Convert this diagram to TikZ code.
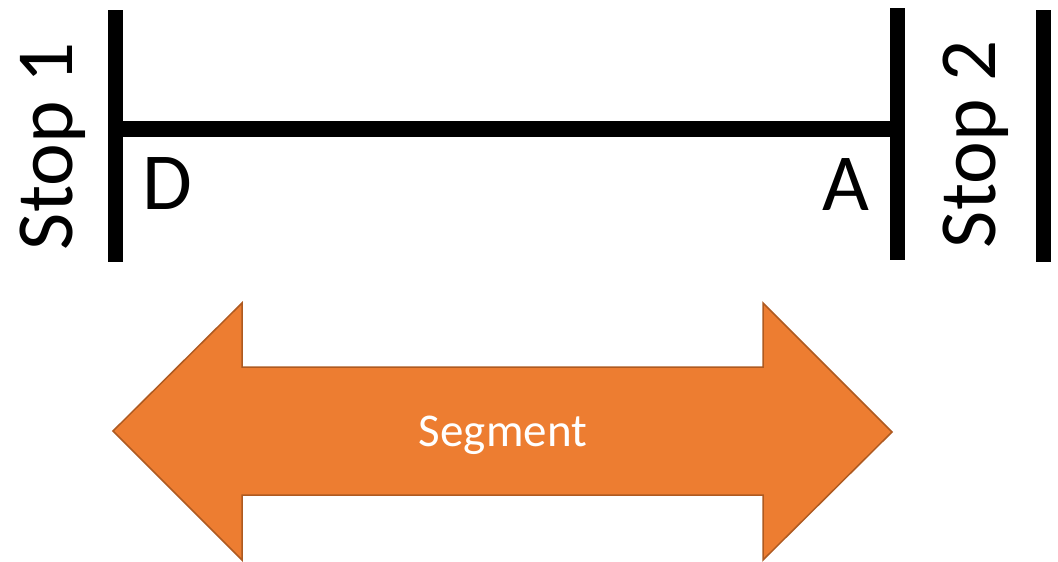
\documentclass[tikz,border=0pt]{standalone}
\usepackage{fontspec}
\setmainfont{Carlito}
\usepackage{tikz}
\usetikzlibrary{positioning}

\definecolor{segfill}{HTML}{ED7D31}
\definecolor{segdraw}{HTML}{AE5A21}

\begin{document}
\begin{tikzpicture}[x=1pt, y=-1pt,
    bar/.style={line width=15pt},
    label/.style={inner sep=0pt, font=\fontsize{81}{97}\selectfont},
    stoplabel/.style={label, rotate=90, anchor=base}]
           \useasboundingbox (0,0) rectangle (1058,562);
           % stops
           \coordinate (s1_top) at (115,10);
           \coordinate (s1_bot) at (115,262);
           \coordinate (s2_top) at (897,8);
           \coordinate (s2_bot) at (897,260);
           \coordinate (s3_top) at (1043,10);
           \coordinate (s3_bot) at (1043,262);
           \coordinate (d) at (115,129);
           \coordinate (a) at (897,129);
           \draw[bar] (s1_top) -- (s1_bot);
           \draw[bar] (s2_top) -- (s2_bot);
           \draw[bar] (s3_top) -- (s3_bot);
           \draw[line width=16pt] (d) -- (a);
           \node[stoplabel](stop_1) at (72,146){Stop 1};
           \node[stoplabel](stop_2) at (995,144){Stop 2};
           \node[label, anchor=base west](dep) at (142,209){D};
           \node[label, anchor=base](arr) at (846,210){A};
           % segment arrow
           \draw[fill=segfill, draw=segdraw, line width=1.5pt, line join=miter]
               (113,431) -- (242,303) -- (242,367) -- (763,367) -- (763,303)
               -- (892,432) -- (763,560) -- (763,495) -- (242,495) -- (242,560) -- cycle;
           \node[text=white, font=\fontsize{47}{56}\selectfont](segment) at (503,435){Segment};
\end{tikzpicture}
\end{document}
